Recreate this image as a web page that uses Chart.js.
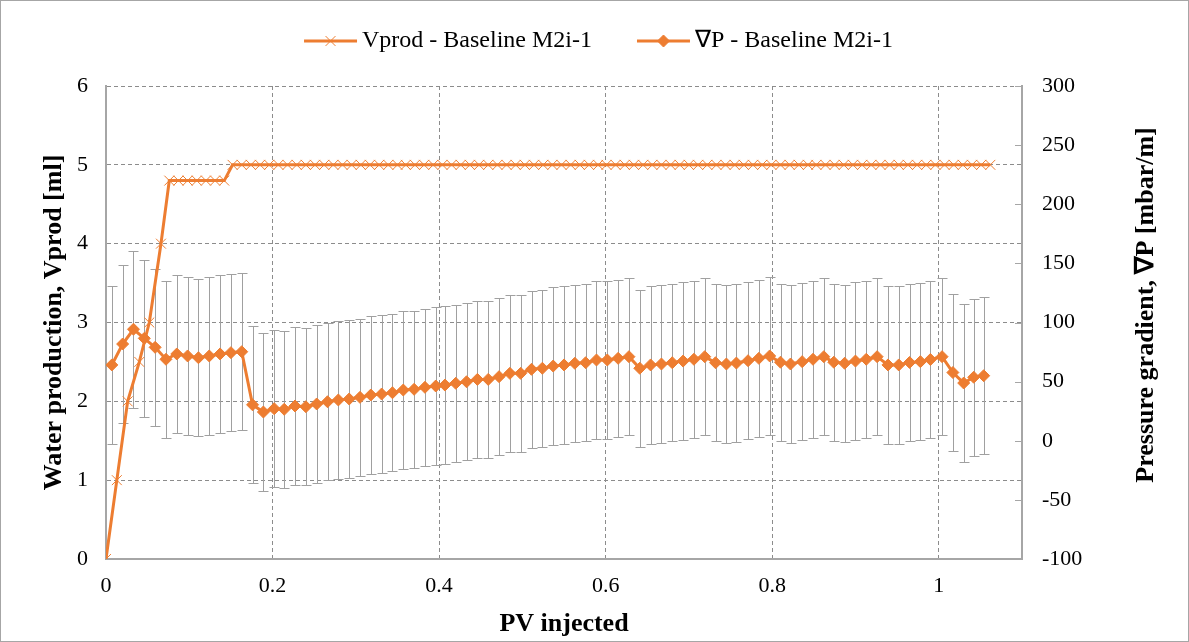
<!DOCTYPE html>
<html>
<head>
<meta charset="utf-8">
<script src="https://cdn.jsdelivr.net/npm/chart.js@4.4.0/dist/chart.umd.min.js"></script>
<style>
  body { margin: 0; background: #fff; }
  canvas { display: block; }
</style>
</head>
<body>
<canvas id="pvc" width="1189" height="642"></canvas>
<script>
// water production (left axis)
const vprodPV = [0, 0.013, 0.026, 0.040, 0.052, 0.066,
    0.076, 0.087, 0.098, 0.109, 0.120, 0.131, 0.142,
    0.152, 0.163, 0.174, 0.185, 0.196, 0.207, 0.218, 0.229, 0.240, 0.251,
    0.262, 0.273, 0.284, 0.295, 0.306, 0.317, 0.328, 0.339, 0.350, 0.360,
    0.371, 0.382, 0.393, 0.404, 0.415, 0.426, 0.437, 0.448, 0.459, 0.470,
    0.481, 0.492, 0.503, 0.514, 0.525, 0.536, 0.547, 0.558, 0.569, 0.580,
    0.591, 0.601, 0.612, 0.623, 0.634, 0.645, 0.656, 0.667, 0.678, 0.689,
    0.700, 0.711, 0.722, 0.733, 0.744, 0.755, 0.766, 0.777, 0.788, 0.799,
    0.810, 0.821, 0.832, 0.843, 0.853, 0.864, 0.875, 0.886, 0.897, 0.908,
    0.919, 0.930, 0.941, 0.952, 0.963, 0.974, 0.985, 0.996, 1.007, 1.018,
    1.029, 1.040, 1.051, 1.062];
const vprodMl = [0, 1, 2, 2.5, 3, 4,
    4.8, 4.8, 4.8, 4.8, 4.8, 4.8, 4.8,
    5, 5, 5, 5, 5, 5, 5, 5, 5, 5,
    5, 5, 5, 5, 5, 5, 5, 5, 5, 5,
    5, 5, 5, 5, 5, 5, 5, 5, 5, 5,
    5, 5, 5, 5, 5, 5, 5, 5, 5, 5,
    5, 5, 5, 5, 5, 5, 5, 5, 5, 5,
    5, 5, 5, 5, 5, 5, 5, 5, 5, 5,
    5, 5, 5, 5, 5, 5, 5, 5, 5, 5,
    5, 5, 5, 5, 5, 5, 5, 5, 5, 5,
    5, 5, 5, 5];

// pressure gradient (right axis)
const dpPV = [0.007, 0.020, 0.033, 0.046, 0.059, 0.072, 0.085, 0.098, 0.111, 0.124,
    0.137, 0.150, 0.163, 0.176, 0.189, 0.202, 0.214, 0.227, 0.240, 0.253,
    0.266, 0.279, 0.292, 0.305, 0.318, 0.331, 0.344, 0.357, 0.370, 0.383,
    0.396, 0.407, 0.420, 0.433, 0.446, 0.459, 0.472, 0.485, 0.498, 0.511,
    0.524, 0.537, 0.550, 0.563, 0.576, 0.589, 0.602, 0.615, 0.628, 0.641,
    0.654, 0.667, 0.680, 0.693, 0.706, 0.719, 0.732, 0.745, 0.757, 0.771,
    0.784, 0.797, 0.810, 0.822, 0.836, 0.849, 0.862, 0.874, 0.887, 0.900,
    0.913, 0.926, 0.939, 0.952, 0.965, 0.978, 0.990, 1.004, 1.017, 1.030,
    1.042, 1.054];
const dpVal = [64.1, 81.8, 94.3, 86.6, 79.0, 68.9, 73.4, 71.7, 70.2, 71.7,
    73.4, 74.5, 75.3, 30.4, 24.3, 27.1, 26.6, 29.4, 28.8, 31.1,
    33.0, 34.5, 35.3, 36.7, 38.7, 39.5, 40.6, 42.9, 43.5, 45.2,
    46.3, 47.1, 48.6, 49.9, 51.9, 51.9, 54.2, 57.0, 57.0, 60.4,
    61.3, 63.2, 64.1, 65.5, 66.0, 68.3, 68.3, 69.7, 71.1, 61.3,
    64.1, 64.9, 66.0, 67.4, 68.9, 71.1, 66.0, 64.9, 65.7, 67.7,
    69.7, 71.7, 66.4, 64.9, 66.9, 68.9, 71.1, 66.4, 65.5, 67.4,
    68.9, 71.1, 64.1, 64.1, 66.2, 66.9, 68.7, 71.1, 57.7, 48.8,
    53.7, 55.0];
const dpErr = 66.5;

const orange = '#ED7D31';
const serif = '"Liberation Serif", "Times New Roman", serif';
Chart.defaults.font.family = serif;
Chart.defaults.color = '#000';

// gray error bars behind the ∇P line
const errorBars = {
    id: 'errorBars',
    beforeDatasetsDraw(chart) {
        const { ctx, scales: { x, y2 } } = chart;
        ctx.save();
        ctx.strokeStyle = '#a0a0a0';
        ctx.lineWidth = 1;
        dpPV.forEach((pv, i) => {
            const px = Math.round(x.getPixelForValue(pv)) + 0.5;
            const top = Math.round(y2.getPixelForValue(dpVal[i] + dpErr)) + 0.5;
            const bot = Math.round(y2.getPixelForValue(dpVal[i] - dpErr)) + 0.5;
            ctx.beginPath();
            ctx.moveTo(px, top); ctx.lineTo(px, bot);
            ctx.moveTo(px - 5, top); ctx.lineTo(px + 5, top);
            ctx.moveTo(px - 5, bot); ctx.lineTo(px + 5, bot);
            ctx.stroke();
        });
        ctx.restore();
    },
};

// legend with line samples, inside ticks + title on the right axis, outer frame
const extras = {
    id: 'extras',
    afterDraw(chart) {
        const { ctx, scales: { y2 } } = chart;
        ctx.save();
        ctx.strokeStyle = '#a6a6a6';
        ctx.lineWidth = 1;
        y2.ticks.forEach(t => {
            const py = Math.round(y2.getPixelForValue(t.value)) + 0.5;
            ctx.beginPath();
            ctx.moveTo(y2.left - 7, py);
            ctx.lineTo(y2.left, py);
            ctx.stroke();
        });
        ctx.strokeRect(0.5, 0.5, chart.width - 1, chart.height - 1);

        // right title reads bottom to top, like the left one
        ctx.save();
        ctx.translate(1146, 305);
        ctx.rotate(-Math.PI / 2);
        ctx.font = 'bold 26px ' + serif;
        ctx.fillStyle = '#000';
        ctx.textAlign = 'center';
        ctx.textBaseline = 'middle';
        ctx.fillText('Pressure gradient, ∇P [mbar/m]', 0, 0);
        ctx.restore();

        ctx.font = '24px ' + serif;
        ctx.textBaseline = 'middle';
        const sample = 53, gap = 5, spacing = 45, ly = 41;
        const sets = chart.data.datasets;
        let total = 0;
        sets.forEach((ds, i) => {
            total += sample + gap + ctx.measureText(ds.label).width + (i ? spacing : 0);
        });
        let lx = (chart.width - total) / 2 + 4;
        sets.forEach(ds => {
            ctx.strokeStyle = orange;
            ctx.lineWidth = 3;
            ctx.beginPath();
            ctx.moveTo(lx, ly);
            ctx.lineTo(lx + sample, ly);
            ctx.stroke();
            ctx.fillStyle = orange;
            ctx.lineWidth = 1;
            Chart.helpers.drawPoint(ctx, { pointStyle: ds.pointStyle, radius: ds.pointRadius, borderWidth: 1, rotation: 0 }, lx + sample / 2, ly);
            ctx.fillStyle = '#000';
            ctx.fillText(ds.label, lx + sample + gap, ly);
            lx += sample + gap + ctx.measureText(ds.label).width + spacing;
        });
        ctx.restore();
    },
};

const tickFont = { size: 22 };
const titleFont = { size: 26, weight: 'bold' };

const pvc = new Chart(document.getElementById('pvc').getContext('2d'), {
    type: 'line',
    data: {
        datasets: [
            {
                label: 'Vprod - Baseline M2i-1',
                data: vprodPV.map((pv, i) => ({ x: pv, y: vprodMl[i] })),
                yAxisID: 'y',
                borderColor: orange,
                backgroundColor: orange,
                borderWidth: 3,
                pointStyle: 'crossRot',
                pointRadius: 7,
                pointBorderWidth: 1,
                pointBorderColor: orange,
                fill: false,
            },
            {
                label: '∇P - Baseline M2i-1',
                data: dpPV.map((pv, i) => ({ x: pv, y: dpVal[i] })),
                yAxisID: 'y2',
                borderColor: orange,
                backgroundColor: orange,
                borderWidth: 3,
                pointStyle: 'rectRot',
                pointRadius: 6,
                pointBorderWidth: 1,
                pointBackgroundColor: orange,
                pointBorderColor: orange,
                fill: false,
            },
        ],
    },
    options: {
        responsive: false,
        animation: false,
        devicePixelRatio: 1,
        layout: { padding: { top: 86, left: 0, right: 0, bottom: 0 } },
        plugins: {
            legend: { display: false },
            tooltip: { enabled: false },
        },
        scales: {
            x: {
                type: 'linear',
                min: 0,
                max: 1.1,
                ticks: {
                    stepSize: 0.2,
                    includeBounds: false,
                    padding: 14,
                    font: tickFont,
                    callback: v => String(Math.round(v * 10) / 10),
                },
                grid: { color: '#8c8c8c', drawTicks: false },
                border: { color: '#a6a6a6', width: 2, dash: [4, 3] },
                title: { display: true, text: 'PV injected', font: titleFont, padding: { top: 0, bottom: 2 } },
                afterFit: s => { s.height = 83; },
            },
            y: {
                position: 'left',
                min: 0,
                max: 6,
                ticks: { stepSize: 1, padding: 18, font: tickFont },
                grid: { color: '#8c8c8c', drawTicks: false },
                border: { color: '#a6a6a6', width: 2, dash: [4, 3] },
                title: { display: true, text: 'Water production, Vprod [ml]', font: titleFont, padding: { top: 39, bottom: 0 } },
                afterFit: s => { s.width = 106; },
            },
            y2: {
                position: 'right',
                min: -100,
                max: 300,
                ticks: { stepSize: 50, padding: 20, font: tickFont },
                grid: { drawOnChartArea: false, drawTicks: false },
                border: { color: '#a6a6a6', width: 2 },
                afterFit: s => { s.width = 167; },
            },
        },
    },
    plugins: [errorBars, extras],
});
</script>
</body>
</html>
